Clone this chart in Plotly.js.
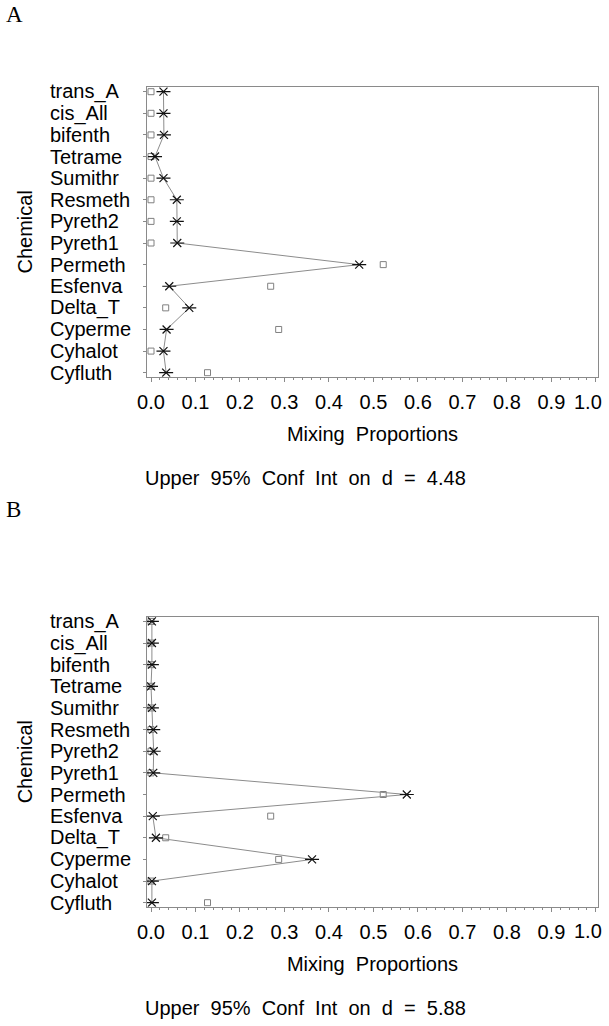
<!DOCTYPE html>
<html>
<head>
<meta charset="utf-8">
<script src="https://cdn.plot.ly/plotly-3.0.1.min.js"></script>
<style>
  html, body { margin: 0; padding: 0; background: #ffffff; }
  #chart { width: 609px; height: 1026px; }
</style>
</head>
<body>
<div id="chart"></div>
<script>
// ---- data (top-to-bottom order as shown) ----
var chemicals = ["trans_A", "cis_All", "bifenth", "Tetrame", "Sumithr", "Resmeth", "Pyreth2",
                 "Pyreth1", "Permeth", "Esfenva", "Delta_T", "Cyperme", "Cyhalot", "Cyfluth"];

// observed proportions (open squares), same in both panels
var observed = [0.0, 0.0, 0.0, 0.0, 0.0, 0.0, 0.0,
                0.0, 0.522, 0.269, 0.033, 0.287, 0.0, 0.127];

// panel A estimated proportions (stars)
var estimateA = [0.028, 0.028, 0.029, 0.009, 0.028, 0.058, 0.058,
                 0.059, 0.468, 0.041, 0.086, 0.035, 0.028, 0.034];

// panel B estimated proportions (stars)
var estimateB = [0.002, 0.002, 0.002, 0.000, 0.002, 0.005, 0.006,
                 0.005, 0.575, 0.004, 0.011, 0.362, 0.002, 0.002];

var xTickVals = [0, 0.1, 0.2, 0.3, 0.4, 0.5, 0.6, 0.7, 0.8, 0.9, 1.0];
var xTickText = ["0.0", "0.1", "0.2", "0.3", "0.4", "0.5", "0.6", "0.7", "0.8", "0.9", "1.0"];

var panelLabels = ["A", "B"];
var confText = ["Upper\u00a0 95%\u00a0 Conf\u00a0 Int\u00a0 on\u00a0 d\u00a0 =\u00a0 4.48",
                "Upper\u00a0 95%\u00a0 Conf\u00a0 Int\u00a0 on\u00a0 d\u00a0 =\u00a0 5.88"];

// ---- geometry helpers (page pixels -> paper) ----
var W = 609, H = 1026;
function px(x) { return x / W; }
function py(y) { return 1 - y / H; }

var FONT = "Liberation Sans, Arial, Helvetica, sans-serif";
var SERIF = "Liberation Serif, Times New Roman, serif";
var AXC = "#8a8a8a";

var panels = [
  { top: 87, bottom: 376.7, est: estimateA, xa: "x", ya: "y", letterY: 15, confY: 478, lastTickY: 401.5 },
  { top: 616.7, bottom: 906.7, est: estimateB, xa: "x2", ya: "y2", letterY: 510, confY: 1008, lastTickY: 931.2 }
];

// all tick labels but the last go on the axis; the last one is nudged inward (as in the original)
var nLast = xTickVals.length - 1;
var axisTickText = xTickText.map(function (t, k) { return k === nLast ? "" : t; });

var traces = [];
var annotations = [];
var layout = {
  width: W, height: H,
  margin: { l: 0, r: 0, t: 0, b: 0 },
  paper_bgcolor: "#ffffff",
  plot_bgcolor: "#ffffff",
  showlegend: false,
  font: { family: FONT, size: 20, color: "#000000" }
};

panels.forEach(function (p, i) {
  traces.push({
    x: observed, y: chemicals, xaxis: p.xa, yaxis: p.ya,
    type: "scatter", mode: "markers", hoverinfo: "x+y",
    marker: { symbol: "square-open", size: 6, color: "#808080", line: { width: 1, color: "#808080" } }
  });
  traces.push({
    x: p.est, y: chemicals, xaxis: p.xa, yaxis: p.ya,
    type: "scatter", mode: "lines+markers", hoverinfo: "x+y",
    line: { color: "#8c8c8c", width: 1 },
    marker: { symbol: "x-thin-open", size: 8, color: "#111111", line: { width: 1.2, color: "#111111" } }
  });
  traces.push({
    x: p.est, y: chemicals, xaxis: p.xa, yaxis: p.ya,
    type: "scatter", mode: "markers", hoverinfo: "skip",
    marker: { symbol: "line-ew-open", size: 10, color: "#111111", line: { width: 1.2, color: "#111111" } }
  });

  var suffix = i === 0 ? "" : "2";
  layout["xaxis" + suffix] = {
    domain: [px(146.7), px(598.3)],
    anchor: "y" + suffix,
    range: [-0.0097, 1.0055],
    tickvals: xTickVals, ticktext: axisTickText,
    ticks: "outside", ticklen: 4, tickwidth: 1, tickcolor: AXC,
    minor: { dtick: 0.02, ticks: "outside", ticklen: 2.5, tickwidth: 1, tickcolor: AXC, showgrid: false },
    showline: true, linecolor: AXC, linewidth: 1, mirror: true,
    showgrid: false, zeroline: false,
    ticklabelstandoff: 3,
    tickfont: { family: FONT, size: 20, color: "#000000" },
    title: { text: "Mixing\u00a0 Proportions", standoff: 15, font: { family: FONT, size: 20, color: "#000000" } },
    fixedrange: true
  };
  layout["yaxis" + suffix] = {
    domain: [py(p.bottom), py(p.top)],
    anchor: "x" + suffix,
    type: "category",
    categoryorder: "array",
    categoryarray: chemicals.slice().reverse(),
    range: [-0.185, 13.217],
    ticks: "outside", ticklen: 3, tickwidth: 1, tickcolor: AXC,
    showticklabels: false,
    showline: true, linecolor: AXC, linewidth: 1, mirror: true,
    showgrid: false, zeroline: false,
    title: { text: "Chemical", standoff: 104, font: { family: FONT, size: 20, color: "#000000" } },
    fixedrange: true
  };

  // last x tick label, placed at its tick value but pulled inward
  annotations.push({
    text: xTickText[nLast], xref: p.xa, x: xTickVals[nLast], xanchor: "center", xshift: -8,
    yref: "paper", y: py(p.lastTickY), yanchor: "middle",
    showarrow: false, font: { family: FONT, size: 20, color: "#000000" }
  });

  // left-justified category labels
  chemicals.forEach(function (c) {
    annotations.push({
      text: c, xref: "paper", x: px(48), xanchor: "left",
      yref: "y" + suffix, y: c, yanchor: "middle",
      showarrow: false, font: { family: FONT, size: 20, color: "#000000" }
    });
  });

  // panel letter
  annotations.push({
    text: panelLabels[i], xref: "paper", yref: "paper",
    x: px(4), xanchor: "left", y: py(p.letterY), yanchor: "middle",
    showarrow: false, font: { family: SERIF, size: 23, color: "#000000" }
  });

  // confidence note
  annotations.push({
    text: confText[i], xref: "paper", yref: "paper",
    x: px(142.7), xanchor: "left", y: py(p.confY), yanchor: "middle",
    showarrow: false, font: { family: FONT, size: 20, color: "#000000" }
  });
});

layout.annotations = annotations;

Plotly.newPlot("chart", traces, layout, { displayModeBar: false });
</script>
</body>
</html>
